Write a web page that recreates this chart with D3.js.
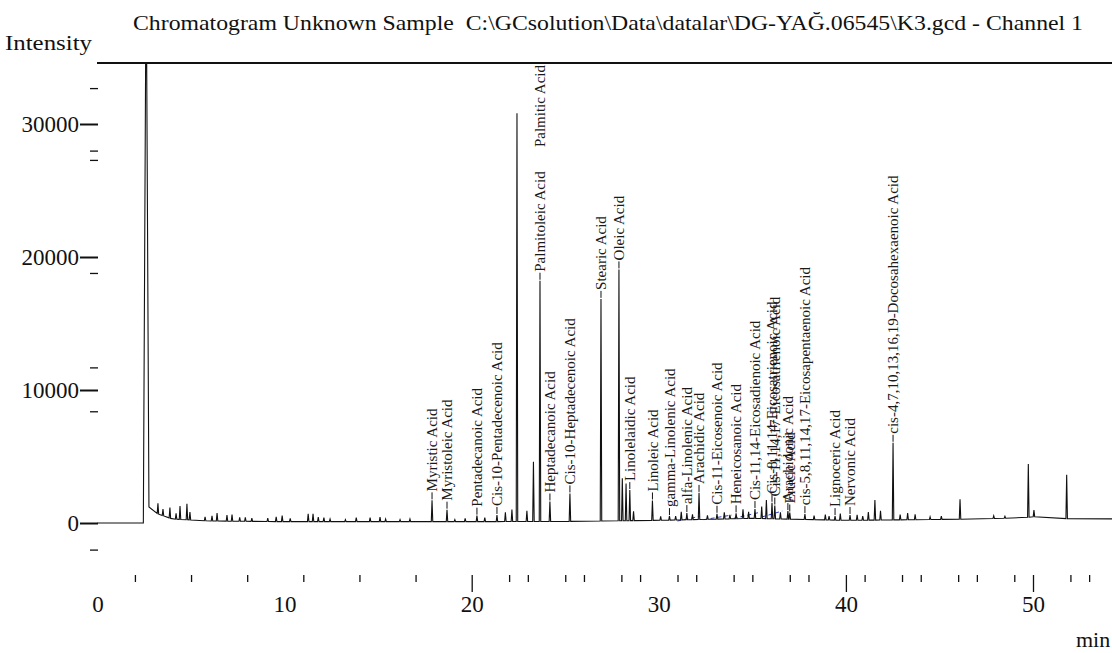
<!DOCTYPE html>
<html>
<head>
<meta charset="utf-8">
<script src="https://cdn.jsdelivr.net/npm/d3@7"></script>
<style>
  body { margin: 0; background: #fff; }
  svg { display: block; font-family: "Liberation Serif", "Times New Roman", serif; }
  .title { white-space: pre; }
</style>
</head>
<body>
<svg id="chart" width="1112" height="653"></svg>
<script>
// ---------------------
// Data
// ---------------------
const titleText = "Chromatogram Unknown Sample  C:\\GCsolution\\Data\\datalar\\DG-YAĞ.06545\\K3.gcd - Channel 1";

// labelled peaks: name, retention time (min), height above baseline
const peakNames = [
  "Myristic Acid", "Myristoleic Acid", "Pentadecanoic Acid", "Cis-10-Pentadecenoic Acid",
  "Palmitic Acid", "Palmitoleic Acid", "Heptadecanoic Acid", "Cis-10-Heptadecenoic Acid",
  "Stearic Acid", "Oleic Acid", "Linolelaidic Acid", "Linoleic Acid",
  "gamma-Linolenic Acid", "alfa-Linolenic Acid", "Arachidic Acid", "Cis-11-Eicosenoic Acid",
  "Heneicosanoic Acid", "Cis-11,14-Eicosadienoic Acid", "Cis-8,11,14-Eicosatrienoic Acid",
  "Cis-11,14,17-Eicosatrienoic Acid", "Arachidonic Acid", "Erucic Acid",
  "cis-5,8,11,14,17-Eicosapentaenoic Acid", "Lignoceric Acid", "Nervonic Acid",
  "cis-4,7,10,13,16,19-Docosahexaenoic Acid"
];
const peakTimes = [
  17.88, 18.68, 20.28, 21.35, 22.42, 23.65, 24.18, 25.25, 26.91, 27.87, 28.45, 29.66,
  30.57, 31.50, 32.15, 33.11, 34.13, 35.14, 36.05, 36.20, 36.90, 37.00, 37.81, 39.42,
  40.22, 42.52
];
const peakHeights = [
  1600, 900, 450, 500, 30700, 18100, 1500, 2100, 16700, 18900, 2300, 1500,
  300, 500, 2000, 400, 400, 700, 1200, 1000, 600, 500, 400, 300,
  400, 5800
];

// unlabelled peaks and baseline noise
const otherTimes = [
  3.23, 3.5, 3.87, 4.2, 4.41, 4.78, 4.94, 5.75, 6.12, 6.39, 6.92, 7.19, 7.6, 7.9, 8.25,
  9.1, 9.55, 9.87, 10.3, 11.26, 11.52, 11.8, 12.1, 12.43, 13.25, 13.83, 14.57, 15.1, 15.4,
  16.17, 16.7, 19.1, 19.65, 20.7, 21.8, 22.15, 22.95, 23.3, 28.05, 28.25, 28.65, 30.1,
  30.9, 31.2, 31.8, 32.6, 33.5, 33.8, 34.5, 34.8, 35.5, 35.75, 36.5, 38.3, 38.9, 39.1,
  39.7, 40.6, 40.9, 41.2, 41.55, 41.85, 42.9, 43.3, 43.7, 44.5, 45.1, 46.1, 47.9, 48.5,
  49.75, 50.05, 51.8
];
const otherHeights = [
  800, 500, 800, 450, 1000, 1200, 600, 300, 400, 600, 450, 500, 300, 300, 250,
  250, 350, 450, 250, 600, 600, 350, 300, 200, 150, 300, 300, 350, 200,
  150, 200, 150, 250, 300, 700, 900, 800, 4500, 3200, 2800, 700, 300,
  300, 600, 400, 300, 500, 300, 700, 500, 900, 1400, 500, 300, 400, 300,
  500, 400, 300, 600, 1500, 700, 400, 500, 400, 200, 250, 1500, 200, 150,
  4000, 500, 3300
];

// solvent peak (runs off the top of the plot)
const solventTime = 2.6, solventHeight = 42000;

// baseline drift
const baseTimes  = [0, 2.45, 2.8, 3.2, 4.0, 6, 10, 15, 20, 25, 30, 35, 40, 44, 47, 49.5, 50.3, 52, 56];
const baseValues = [0, 0, 1400, 700, 300, 150, 100, 100, 100, 120, 200, 350, 200, 250, 300, 400, 500, 300, 300];

// blue dashed integration baselines
const blueT0 = [31.0, 32.4, 34.0, 35.5];
const blueT1 = [32.2, 33.9, 35.4, 36.6];
const blueI0 = [150, 250, 350, 450];
const blueI1 = [500, 600, 800, 900];

// axes
const yMajorTicks = [0, 10000, 20000, 30000];
const yMinorTicks = [32700, 28000, 27300, 18800, 11700, 8400, -2000];
const xLabelTicks = [0, 10, 20, 30, 40, 50];
const xLongTicks  = [20, 40, 50];
const xShortTicks = [2, 5, 8, 11, 14, 17, 22, 23, 25, 26, 28, 29, 31, 32, 34, 35, 37, 38,
                     41, 43, 44, 46, 47, 49, 52, 53];

// ---------------------
// Layout
// ---------------------
const frameTop = 63,
  W = 1112,
  serif = '"Liberation Serif", "Times New Roman", serif';

const svg = d3.select('#chart');
svg.append('rect').attr('width', W).attr('height', 653).attr('fill', '#fff');

const x = d3.scaleLinear().domain([0, 50]).range([97.5, 1033]);
const y = d3.scaleLinear().domain([0, 30000]).range([523, 124]);
const base = d3.scaleLinear().domain(baseTimes).range(baseValues).clamp(true);

// title and axis names
svg.append('text')
  .attr('class', 'title')
  .attr('x', 133).attr('y', 30)
  .attr('font-family', serif)
  .attr('font-size', 22)
  .attr('textLength', 950).attr('lengthAdjust', 'spacingAndGlyphs')
  .attr('fill', '#111')
  .text(titleText);

svg.append('text')
  .attr('x', 5).attr('y', 50)
  .attr('font-family', serif)
  .attr('font-size', 21)
  .attr('textLength', 87).attr('lengthAdjust', 'spacingAndGlyphs')
  .attr('fill', '#111')
  .text('Intensity');

svg.append('text')
  .attr('x', 1076).attr('y', 647)
  .attr('font-family', serif)
  .attr('font-size', 22)
  .attr('fill', '#111')
  .text('min');

// frame top line
svg.append('line')
  .attr('x1', 97).attr('x2', W)
  .attr('y1', frameTop).attr('y2', frameTop)
  .attr('stroke', '#111').attr('stroke-width', 2);

// ---------------------
// Y axis
// ---------------------
const yAxis = svg.append('g')
  .attr('transform', 'translate(98,0)')
  .call(d3.axisLeft(y).tickValues(yMajorTicks).tickSize(18).tickPadding(1).tickFormat(d3.format('d')));
svg.append('g')
  .attr('transform', 'translate(98,0)')
  .call(d3.axisLeft(y).tickValues(yMinorTicks).tickSize(8).tickFormat(''));

// ---------------------
// X axis (tick row below plot, labels further down)
// ---------------------
svg.append('g')
  .attr('transform', 'translate(0,575)')
  .call(d3.axisBottom(x).tickValues(xShortTicks).tickSize(7).tickFormat(''));
svg.append('g')
  .attr('transform', 'translate(0,575)')
  .call(d3.axisBottom(x).tickValues(xLongTicks).tickSize(17).tickFormat(''));
svg.append('g')
  .attr('transform', 'translate(0,575)')
  .call(d3.axisBottom(x).tickValues(xLabelTicks).tickSize(0).tickPadding(21));

svg.selectAll('.domain').remove();
svg.selectAll('.tick text')
  .attr('font-family', serif)
  .attr('font-size', 23)
  .attr('fill', '#111');
svg.selectAll('.tick line').attr('stroke', '#111').attr('stroke-width', 1.3);
yAxis.selectAll('.tick line').attr('stroke-width', 2);

// ---------------------
// Trace
// ---------------------
const peaks = peakTimes.map((t, i) => ({ t: t, h: peakHeights[i], name: peakNames[i] }))
  .concat(otherTimes.map((t, i) => ({ t: t, h: otherHeights[i] })))
  .concat([{ t: solventTime, h: solventHeight }])
  .sort((a, b) => a.t - b.t);

const pts = [[0, base(0)]];
peaks.forEach(p => {
  const w = p.t === solventTime ? 0.15 : 0.04;
  pts.push([p.t - w, base(p.t - w)], [p.t, base(p.t) + p.h], [p.t + w, base(p.t + w)]);
});
pts.push([56, base(56)]);

svg.append('clipPath').attr('id', 'plotClip')
  .append('rect').attr('x', 90).attr('y', frameTop).attr('width', W).attr('height', 520);

const line = d3.line().x(d => x(d[0])).y(d => y(d[1]));

const plot = svg.append('g').attr('clip-path', 'url(#plotClip)');

// integration baselines
plot.selectAll('line.blue')
  .data(blueT0)
  .enter()
  .append('line')
  .attr('class', 'blue')
  .attr('x1', (d, i) => x(d)).attr('x2', (d, i) => x(blueT1[i]))
  .attr('y1', (d, i) => y(blueI0[i])).attr('y2', (d, i) => y(blueI1[i]))
  .attr('stroke', '#2f3fc8').attr('stroke-width', 1).attr('stroke-dasharray', '4,3');

plot.append('path')
  .attr('d', line(pts))
  .attr('fill', 'none')
  .attr('stroke', '#111')
  .attr('stroke-width', 1.1);

// ---------------------
// Peak labels (vertical, above apex)
// ---------------------
peaks.filter(p => p.name).forEach(p => {
  const px = x(p.t),
    apexY = y(base(p.t) + p.h);
  const label = svg.append('text')
    .attr('font-family', serif)
    .attr('font-size', 15)
    .attr('fill', '#1a1a1a')
    .attr('dy', '0.35em')
    .text(p.name);
  const len = label.node().getComputedTextLength();
  let startY = apexY - 9, lx = px, leader = true;
  if (startY - len < frameTop + 2) {     // no room above the apex: shift right, hang from top
    startY = frameTop + 2 + len;
    lx = px + 23;
    leader = false;
  }
  label.attr('transform', 'translate(' + lx + ',' + startY + ') rotate(-90)');
  if (leader) {
    svg.append('line')
      .attr('x1', px).attr('x2', px)
      .attr('y1', apexY - 1).attr('y2', apexY - 8)
      .attr('stroke', '#111').attr('stroke-width', 1);
  }
});
</script>
</body>
</html>
